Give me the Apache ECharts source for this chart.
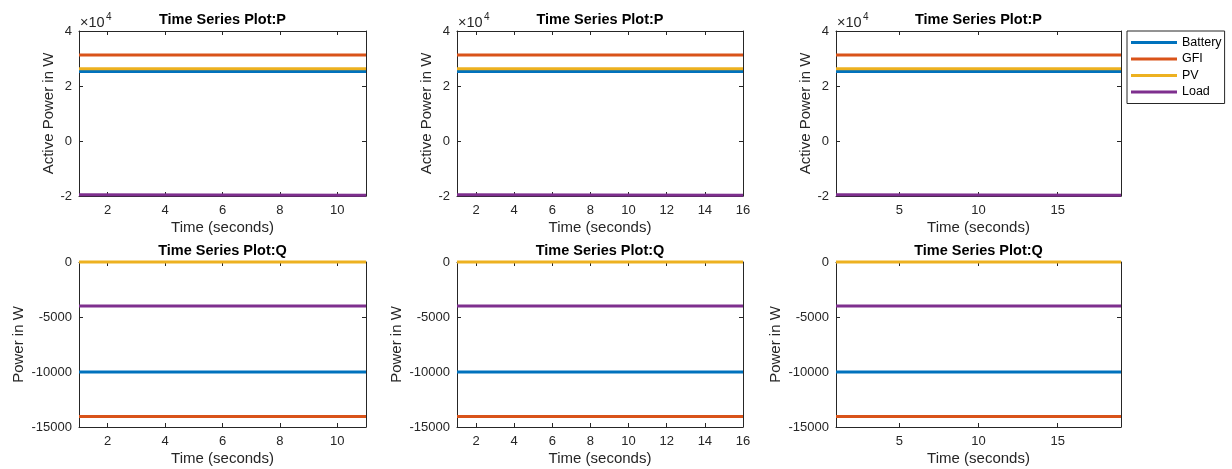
<!DOCTYPE html>
<html>
<head>
<meta charset="utf-8">
<script src="https://cdn.jsdelivr.net/npm/echarts@6/dist/echarts.min.js"></script>
<style>
  html, body { margin: 0; padding: 0; background: #fff; }
  #chart { width: 1232px; height: 469px; }
</style>
</head>
<body>
<div id="chart"></div>
<script>
(() => {
  const seriesNames = ['Battery', 'GFI', 'PV', 'Load'];
  const colors = ['#0072BD', '#D95319', '#EDB120', '#7E2F8E'];

  // start / end time of each run (seconds)
  const runTimes = [[1, 11], [1, 16], [1, 19]];
  const xTicks = [[2, 4, 6, 8, 10], [2, 4, 6, 8, 10, 12, 14, 16], [5, 10, 15]];

  // active power P, value at start / end of run
  const pBattery = [25300, 25300];
  const pGFI = [31300, 31300];
  const pPV = [26300, 26300];
  const pLoad = [-19500, -19700];

  // reactive power Q
  const qBattery = [-10000, -10000];
  const qGFI = [-14050, -14050];
  const qPV = [0, 0];
  const qLoad = [-4000, -4000];

  const chart = echarts.init(document.getElementById('chart'));

  const font = 'Liberation Sans, Arial, Helvetica, sans-serif';
  const axisColor = '#262626';

  const gridLeft = [79, 457, 836];
  const gridWidth = [287, 286, 285];
  const gridTop = [31, 262];
  const gridHeight = 165;

  const rows = [
    { title: 'Time Series Plot:P', yName: 'Active Power in W', nameGap: 20,
      min: -20000, max: 40000, interval: 20000, fmt: v => v / 10000,
      values: [pBattery, pGFI, pPV, pLoad] },
    { title: 'Time Series Plot:Q', yName: 'Power in W', nameGap: 53,
      min: -15000, max: 0, interval: 5000, fmt: v => v,
      values: [qBattery, qGFI, qPV, qLoad] }
  ];

  const grids = [], xAxes = [], yAxes = [], series = [], graphics = [];

  rows.forEach((row, r) => {
    for (let c = 0; c < 3; c++) {
      const g = grids.length;
      const times = runTimes[c];
      grids.push({
        left: gridLeft[c], top: gridTop[r], width: gridWidth[c], height: gridHeight,
        show: true, backgroundColor: '#fff', borderWidth: 0
      });

      const lineStyle = { color: axisColor, width: 1 };
      // bottom axis (with labels)
      xAxes.push({
        gridIndex: g, type: 'value', position: 'bottom',
        min: times[0], max: times[times.length - 1],
        axisLine: { show: true, onZero: false, lineStyle },
        axisTick: { show: true, inside: true, length: 4, lineStyle, customValues: xTicks[c] },
        axisLabel: { customValues: xTicks[c], margin: 8, fontSize: 13, color: axisColor, fontFamily: font },
        splitLine: { show: false },
        name: 'Time (seconds)', nameLocation: 'middle', nameGap: 24,
        nameTextStyle: { fontSize: 15, color: axisColor, fontFamily: font }
      });
      // top axis, box + ticks only
      xAxes.push({
        gridIndex: g, type: 'value', position: 'top',
        min: times[0], max: times[times.length - 1],
        axisLine: { show: true, onZero: false, lineStyle },
        axisTick: { show: true, inside: true, length: 4, lineStyle, customValues: xTicks[c] },
        axisLabel: { show: false },
        splitLine: { show: false }
      });
      yAxes.push({
        gridIndex: g, type: 'value', position: 'left',
        min: row.min, max: row.max, interval: row.interval,
        axisLine: { show: true, onZero: false, lineStyle },
        axisTick: { show: true, inside: true, length: 4, lineStyle },
        axisLabel: { formatter: row.fmt, margin: 7, fontSize: 13, color: axisColor, fontFamily: font },
        splitLine: { show: false },
        name: row.yName, nameLocation: 'middle', nameGap: row.nameGap,
        nameTextStyle: { fontSize: 15, color: axisColor, fontFamily: font }
      });
      yAxes.push({
        gridIndex: g, type: 'value', position: 'right',
        min: row.min, max: row.max, interval: row.interval,
        axisLine: { show: true, onZero: false, lineStyle },
        axisTick: { show: true, inside: true, length: 4, lineStyle },
        axisLabel: { show: false },
        splitLine: { show: false }
      });

      row.values.forEach((vals, k) => {
        series.push({
          name: seriesNames[k],
          type: 'line',
          xAxisIndex: 2 * g,
          yAxisIndex: 2 * g,
          data: times.map((t, i) => [t, vals[i]]),
          symbol: 'none',
          clip: false,
          color: colors[k],
          lineStyle: { width: 3, color: colors[k] }
        });
      });

      // subplot title
      graphics.push({
        type: 'text',
        x: gridLeft[c] + gridWidth[c] / 2,
        y: gridTop[r] - 11,
        style: {
          text: row.title, align: 'center', verticalAlign: 'middle',
          font: 'bold 14.5px ' + font, fill: '#000'
        }
      });

      // exponent marker on the P plots
      if (r === 0) {
        graphics.push({
          type: 'text', x: gridLeft[c] + 1, y: gridTop[r] - 8,
          style: { text: '\u00d710', align: 'left', verticalAlign: 'middle',
            font: '14.5px ' + font, fill: axisColor }
        });
        graphics.push({
          type: 'text', x: gridLeft[c] + 27, y: gridTop[r] - 14,
          style: { text: '4', align: 'left', verticalAlign: 'middle',
            font: '10px ' + font, fill: axisColor }
        });
      }
    }
  });

  const option = {
    animation: false,
    backgroundColor: '#fff',
    legend: {
      data: seriesNames,
      orient: 'vertical',
      left: 1127,
      top: 31,
      padding: [5, 3, 5, 4],
      icon: 'rect',
      itemWidth: 46,
      itemHeight: 3,
      itemGap: 3.5,
      borderColor: axisColor,
      borderWidth: 1,
      borderRadius: 0,
      backgroundColor: '#fff',
      textStyle: { fontSize: 12.5, color: '#000', fontFamily: font }
    },
    grid: grids,
    xAxis: xAxes,
    yAxis: yAxes,
    series: series,
    graphic: graphics
  };

  chart.setOption(option);
})();
</script>
</body>
</html>
